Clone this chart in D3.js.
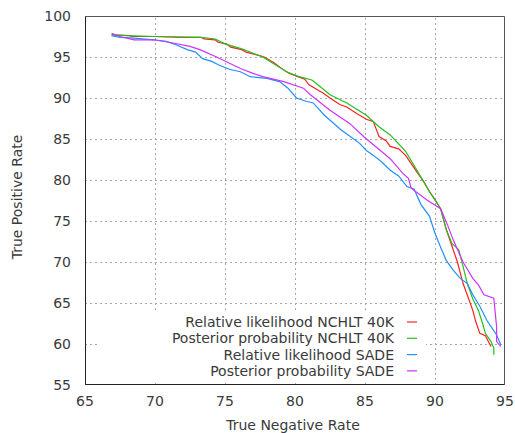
<!DOCTYPE html>
<html>
<head>
<meta charset="utf-8">
<script src="https://cdn.jsdelivr.net/npm/d3@7"></script>
<style>
  body { margin: 0; background: #fff; }
  text { font-family: "DejaVu Sans", sans-serif; font-size: 14px; fill: #3a3a3a; }
</style>
</head>
<body>
<script>
// ROC-style curves: [true negative rate, true positive rate]
const relNchlt = [[66.9,97.7],[68.2,97.6],[68.3,97.5],[70,97.5],[72,97.4],[73.3,97.4],[73.5,97.2],[74.3,97.1],[74.5,96.8],[75.1,96.6],[75.4,96.2],[76.2,95.9],[76.5,95.6],[77.4,95.2],[77.8,95.0],[78.5,94.3],[79.2,93.4],[79.6,93.0],[80.2,92.6],[80.7,92.3],[81.0,91.6],[81.6,91.0],[82.0,90.6],[82.5,90.0],[83.2,89.2],[83.7,88.9],[84.4,88.1],[85.1,87.4],[85.6,87.1],[85.8,86.2],[86.0,85.3],[86.5,84.8],[86.8,84.1],[87.4,83.8],[87.9,83.0],[88.3,82.0],[88.7,81.0],[89.2,79.8],[89.6,78.6],[90.0,77.6],[90.4,76.5],[90.8,74.0],[91.1,72.5],[91.3,71.5],[91.6,70.0],[92.0,67.4],[92.3,66.0],[92.7,64.1],[92.9,62.8],[93.2,61.3],[93.6,61.0],[94.0,59.7]];
const postNchlt = [[66.9,97.7],[68,97.6],[70,97.5],[73.3,97.4],[74.3,97.2],[75.0,96.6],[76.2,96.0],[77.7,95.0],[79.4,93.2],[80.1,92.7],[81.2,92.2],[81.5,91.8],[82.5,90.4],[83.7,89.4],[85.1,87.9],[86.0,86.5],[86.8,85.5],[87.9,83.5],[88.7,81.2],[89.6,78.6],[90.4,76.5],[90.8,74.0],[91.2,72.3],[91.7,71.5],[92.0,69.5],[92.3,67.4],[92.7,65.5],[93.1,64.1],[93.4,62.5],[93.6,61.3],[94.0,60.3],[94.2,59.5],[94.2,58.7]];
const relSade = [[66.9,97.6],[67.5,97.4],[68.5,97.3],[69.9,97.1],[70.8,96.9],[71.5,96.5],[72.3,95.9],[72.9,95.6],[73.4,94.8],[74.0,94.5],[74.6,94.0],[75.3,93.5],[76.1,93.2],[76.8,92.6],[78.0,92.4],[78.9,92.0],[79.5,91.2],[80.1,90.0],[80.8,89.6],[81.3,89.4],[82.1,87.9],[83.3,86.1],[83.8,85.5],[84.6,84.5],[85.1,83.6],[85.6,83.0],[86.2,82.2],[86.8,81.2],[87.4,80.5],[88.0,79.2],[88.5,78.9],[89.0,77.0],[89.6,75.6],[90.0,73.5],[90.4,71.8],[90.8,70.2],[91.3,69.0],[91.8,68.0],[92.3,67.4],[92.7,66.0],[93.2,64.6],[93.7,62.9],[94.4,61.1],[94.7,59.9]];
const postSade = [[66.9,97.9],[67.5,97.5],[68.5,97.1],[69.9,97.1],[71.0,96.8],[72.5,96.3],[73.2,95.9],[74.4,95.0],[76.1,93.6],[77.0,93.0],[77.7,92.6],[79.2,92.0],[80.6,91.2],[81.1,90.4],[82.5,88.5],[83.9,86.9],[84.9,85.3],[86.8,82.6],[87.7,80.8],[88.1,80.2],[88.3,79.0],[89.4,77.6],[90.4,76.5],[90.9,74.5],[91.3,72.7],[92.0,70.0],[92.7,68.0],[93.1,67.2],[93.5,66.0],[94.2,65.6],[94.4,62.1],[94.4,60.3],[94.7,59.7]];

const seriesNames = ["Relative likelihood NCHLT 40K", "Posterior probability NCHLT 40K",
                     "Relative likelihood SADE", "Posterior probability SADE"];
const seriesData = [relNchlt, postNchlt, relSade, postSade];
const seriesColors = ["#ff2020", "#22c022", "#1f8fff", "#cc33ff"];

const xTicks = [65, 70, 75, 80, 85, 90, 95];
const yTicks = [55, 60, 65, 70, 75, 80, 85, 90, 95, 100];

const width = 515, height = 433;
const margin = { left: 85, right: 10, top: 16, bottom: 48 };

const svg = d3.select("body").append("svg")
    .attr("width", width)
    .attr("height", height);

const x = d3.scaleLinear().domain([65, 95]).range([margin.left, width - margin.right]);
const y = d3.scaleLinear().domain([55, 100]).range([height - margin.bottom, margin.top]);

// grid
svg.append("g").selectAll("line")
    .data(xTicks.slice(1, -1))
    .join("line")
    .attr("x1", d => x(d) + 0.5).attr("x2", d => x(d) + 0.5)
    .attr("y1", y(55)).attr("y2", y(100))
    .attr("stroke", "#a8a8a8").attr("stroke-dasharray", "2,3");

svg.append("g").selectAll("line")
    .data(yTicks.slice(1, -1))
    .join("line")
    .attr("x1", x(65)).attr("x2", x(95))
    .attr("y1", d => Math.round(y(d)) + 0.5).attr("y2", d => Math.round(y(d)) + 0.5)
    .attr("stroke", "#a8a8a8").attr("stroke-dasharray", "2,3");

// key box hides the grid behind it
svg.append("rect")
    .attr("x", 97).attr("y", 312)
    .attr("width", 329).attr("height", 69)
    .attr("fill", "#fff");

// curves
svg.append("clipPath").attr("id", "clip")
    .append("rect")
    .attr("x", x(65)).attr("y", y(100))
    .attr("width", x(95) - x(65)).attr("height", y(55) - y(100));

const line = d3.line().x(d => x(d[0])).y(d => y(d[1]));

svg.append("g").attr("clip-path", "url(#clip)")
    .selectAll("path")
    .data(seriesData)
    .join("path")
    .attr("d", line)
    .attr("fill", "none")
    .attr("stroke", (d, i) => seriesColors[i])
    .attr("stroke-width", 1.2);

// border
const bx0 = x(65) + 0.5, bx1 = x(95) - 0.5, by0 = y(100) + 0.5, by1 = y(55) - 0.5;
svg.append("path")
    .attr("d", `M${bx0},${by1}H${bx1}V${by0}H${bx0}Z`)
    .attr("fill", "none").attr("stroke", "#555");
svg.append("path")
    .attr("d", `M${bx0},${by0}V${by1}H${bx1}`)
    .attr("fill", "none").attr("stroke", "#222");

// tick labels
svg.append("g").selectAll("text")
    .data(xTicks)
    .join("text")
    .attr("x", d => x(d)).attr("y", 406)
    .attr("text-anchor", "middle")
    .text(d => d);

svg.append("g").selectAll("text")
    .data(yTicks)
    .join("text")
    .attr("x", 71).attr("y", d => y(d) + 5)
    .attr("text-anchor", "end")
    .text(d => d);

// axis titles
svg.append("text")
    .attr("x", 293).attr("y", 430)
    .attr("text-anchor", "middle")
    .text("True Negative Rate");

svg.append("text")
    .attr("transform", "translate(22,197) rotate(-90)")
    .attr("text-anchor", "middle")
    .text("True Positive Rate");

// key
const key = svg.append("g").selectAll("g")
    .data(seriesNames)
    .join("g")
    .attr("transform", (d, i) => `translate(0,${322 + i * 16.3})`);

key.append("text")
    .attr("x", 394).attr("y", 5)
    .attr("text-anchor", "end")
    .text(d => d);

key.append("line")
    .attr("x1", 407).attr("x2", 417)
    .attr("y1", 0).attr("y2", 0)
    .attr("stroke", (d, i) => seriesColors[i])
    .attr("stroke-width", 1.2);
</script>
</body>
</html>
